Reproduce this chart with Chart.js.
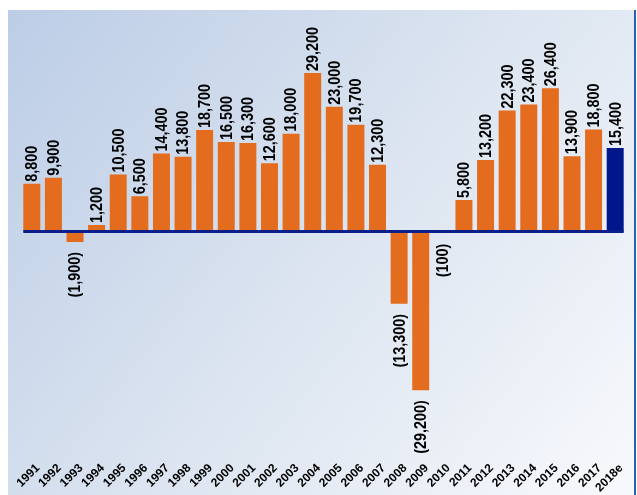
<!DOCTYPE html>
<html>
<head>
<meta charset="utf-8">
<script src="https://cdn.jsdelivr.net/npm/chart.js@4"></script>
<style>
  html, body { margin: 0; padding: 0; background: #ffffff; }
  canvas { display: block; }
</style>
</head>
<body>
<canvas id="c" width="637" height="495"></canvas>
<script>
// ---- Data ----
const years = ['1991','1992','1993','1994','1995','1996','1997','1998','1999','2000',
  '2001','2002','2003','2004','2005','2006','2007','2008','2009','2010',
  '2011','2012','2013','2014','2015','2016','2017','2018e'];
const netChange = [8800, 9900, -1900, 1200, 10500, 6500, 14400, 13800, 18700, 16500,
  16300, 12600, 18000, 29200, 23000, 19700, 12300, -13300, -29200, -100,
  5800, 13200, 22300, 23400, 26400, 13900, 18800, 15400];
const yRange = [-40810, 39890];

// ---- Styles ----
const ORANGE = '#e36c1f';
const NAVY = '#00168a';
const FONT = "'Liberation Sans', Arial, sans-serif";
const barColors = years.map(y => y.endsWith('e') ? NAVY : ORANGE);

function fmt(v) {
  const s = Math.abs(v).toLocaleString('en-US');
  return v < 0 ? '(' + s + ')' : s;
}

const bgPlugin = {
  id: 'bg',
  beforeDraw(chart) {
    const ctx = chart.ctx;
    const W = chart.width, H = chart.height;
    ctx.save();
    ctx.fillStyle = '#ffffff';
    ctx.fillRect(0, 0, W, H);
    const g = ctx.createLinearGradient(8, 10, W - 2, H);
    g.addColorStop(0, '#bccde6');
    g.addColorStop(0.5, '#dbe4f0');
    g.addColorStop(1, '#f8f9fc');
    ctx.fillStyle = g;
    ctx.fillRect(8, 10, W - 10, H - 10);
    ctx.fillStyle = '#2a62b2';
    ctx.fillRect(W - 3, 10, 2, H - 10);
    ctx.restore();
  }
};

const labelPlugin = {
  id: 'labels',
  afterDatasetsDraw(chart) {
    const ctx = chart.ctx;
    const meta = chart.getDatasetMeta(0);
    const ys = chart.scales.y;
    const zero = ys.getPixelForValue(0);
    // zero line across the bars
    const first = meta.data[0], last = meta.data[meta.data.length - 1];
    ctx.save();
    ctx.strokeStyle = '#0a1e8c';
    ctx.lineWidth = 3;
    ctx.beginPath();
    ctx.moveTo(first.x - first.width / 2, zero);
    ctx.lineTo(last.x + last.width / 2, zero);
    ctx.stroke();
    ctx.restore();

    ctx.save();
    ctx.fillStyle = '#000000';
    ctx.font = 'bold 16px ' + FONT;
    ctx.textBaseline = 'middle';
    meta.data.forEach((bar, i) => {
      const v = netChange[i];
      const txt = fmt(v);
      ctx.save();
      if (v >= 0) {
        ctx.translate(bar.x, Math.min(bar.y, zero) - 2);
        ctx.rotate(-Math.PI / 2);
        ctx.textAlign = 'left';
      } else {
        ctx.translate(bar.x, Math.max(bar.y, zero + 2) + 10);
        ctx.rotate(-Math.PI / 2);
        ctx.textAlign = 'right';
      }
      ctx.scale(0.9, 1);
      ctx.fillText(txt, 0, 1);
      ctx.restore();
    });
    ctx.restore();
  }
};

new Chart(document.getElementById('c'), {
  type: 'bar',
  data: {
    labels: years,
    datasets: [{
      data: netChange,
      backgroundColor: barColors,
      borderWidth: 0,
      categoryPercentage: 1.0,
      barPercentage: 0.786
    }]
  },
  options: {
    responsive: false,
    devicePixelRatio: 1,
    animation: false,
    layout: { padding: { left: 21, right: 11, top: 15, bottom: 0 } },
    plugins: { legend: { display: false }, tooltip: { enabled: false } },
    scales: {
      x: {
        grid: { display: false },
        border: { display: false },
        ticks: {
          color: '#000000',
          font: { family: FONT, size: 12, weight: 'bold' },
          minRotation: 45,
          maxRotation: 45,
          autoSkip: false,
          padding: 0,
          labelOffset: 6
        }
      },
      y: {
        display: false,
        min: yRange[0],
        max: yRange[1]
      }
    }
  },
  plugins: [bgPlugin, labelPlugin]
});
</script>
</body>
</html>
